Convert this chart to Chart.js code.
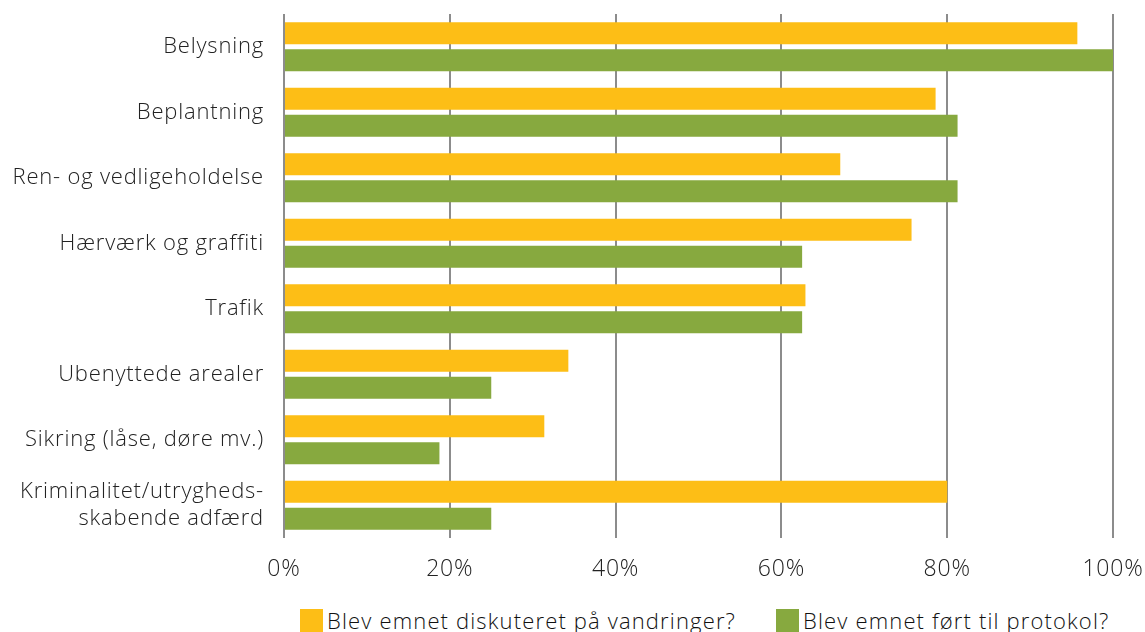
<!DOCTYPE html>
<html>
<head>
<meta charset="utf-8">
<script src="https://cdn.jsdelivr.net/npm/chart.js@4/dist/chart.umd.min.js"></script>
<style>
  html, body { margin: 0; padding: 0; background: #fff; overflow: hidden; }
  #wrap { position: relative; width: 1145px; height: 632px; }
  #legend { position: absolute; left: 0; top: 607px; width: 1145px; height: 30px; font-family: "Open Sans", Roboto, sans-serif; font-weight: 300; font-size: 22px; letter-spacing: 1.15px; color: #111; }
  .item { position: absolute; top: 0; white-space: nowrap; line-height: 26px; }
  .sw { display: inline-block; width: 23px; height: 23px; vertical-align: top; margin-top: 2px; margin-right: 4px; }
</style>
</head>
<body>
<div id="wrap">
  <canvas id="c" width="1145" height="600" style="position:absolute;left:0;top:0;width:1145px;height:600px"></canvas>
  <div id="legend"></div>
</div>
<script>
const categories = [
  "Belysning",
  "Beplantning",
  "Ren- og vedligeholdelse",
  "Hærværk og graffiti",
  "Trafik",
  "Ubenyttede arealer",
  "Sikring (låse, døre mv.)",
  ["Kriminalitet/utrygheds-", "skabende adfærd"]
];
const seriesNames = ["Blev emnet diskuteret på vandringer?", "Blev emnet ført til protokol?"];
const discussed = [95.7, 78.6, 67.1, 75.7, 62.9, 34.3, 31.4, 80.0];
const protocol = [100, 81.25, 81.25, 62.5, 62.5, 25, 18.75, 25];
const xTicks = [0, 20, 40, 60, 80, 100];
const colors = ["#FDBE16", "#87A93F"];

const FONT = "'Open Sans', Roboto, sans-serif";

const spacing = {
  id: "spacing",
  beforeDraw(chart) { chart.ctx.letterSpacing = "0.8px"; }
};

new Chart(document.getElementById("c"), {
  type: "bar",
  data: {
    labels: categories,
    datasets: [
      { label: seriesNames[0], data: discussed, backgroundColor: colors[0], categoryPercentage: 0.823, barPercentage: 0.815 },
      { label: seriesNames[1], data: protocol, backgroundColor: colors[1], categoryPercentage: 0.823, barPercentage: 0.815 }
    ]
  },
  plugins: [spacing],
  options: {
    indexAxis: "y",
    responsive: false,
    animation: false,
    layout: { padding: { top: 14, right: 32, bottom: 0, left: 0 } },
    plugins: { legend: { display: false }, tooltip: { enabled: false } },
    scales: {
      x: {
        min: 0, max: 100,
        afterBuildTicks: (s) => { s.ticks = xTicks.map(v => ({ value: v })); },
        afterFit: (s) => { s.height = 600 - 538; s.paddingLeft = 0; s.paddingRight = 0; },
        grid: { color: "#8c8c8c", lineWidth: 2, drawTicks: false },
        border: { display: false },
        ticks: { padding: 18, color: "#222", font: { family: FONT, size: 23, weight: 300 }, callback: (v) => v + "%" }
      },
      y: {
        afterFit: (s) => { s.width = 284; s.paddingTop = 0; s.paddingBottom = 0; },
        grid: { display: false, drawTicks: false },
        border: { display: false },
        ticks: { padding: 20, color: "#222", font: { family: FONT, size: 22, weight: 300 } }
      }
    }
  }
});

const leg = document.getElementById("legend");
const legX = [300, 776];
seriesNames.forEach((n, i) => {
  const d = document.createElement("div");
  d.className = "item";
  d.style.left = legX[i] + "px";
  d.innerHTML = '<span class="sw" style="background:' + colors[i] + '"></span>' + n;
  leg.appendChild(d);
});
</script>
</body>
</html>
